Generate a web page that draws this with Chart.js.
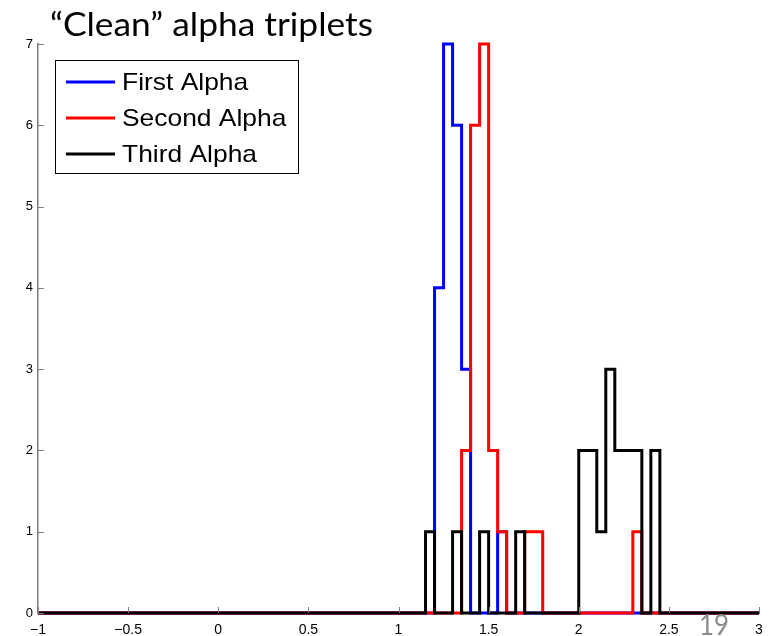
<!DOCTYPE html>
<html>
<head>
<meta charset="utf-8">
<script src="https://cdn.jsdelivr.net/npm/chart.js@4/dist/chart.umd.min.js"></script>
<style>
  body { margin: 0; background: #fff; }
  #wrap { position: relative; width: 777px; height: 636px; }
</style>
</head>
<body>
<div id="wrap"><canvas id="mycanvas" width="777" height="636"></canvas></div>
<script>
// histogram bin edges (left edge of each step) and counts
var firstX  = [-1, 1.2, 1.25, 1.3, 1.35, 1.4, 1.55, 1.6, 3];
var firstY  = [0, 4, 7, 6, 3, 0, 1, 0, 0];

var secondX = [-1, 1.35, 1.4, 1.45, 1.5, 1.55, 1.6, 1.7, 1.8, 2.3, 2.35, 3];
var secondY = [0, 2, 6, 7, 2, 1, 0, 1, 0, 1, 0, 0];

var thirdX  = [-1, 1.15, 1.2, 1.3, 1.35, 1.45, 1.5, 1.65, 1.7, 2.0, 2.1, 2.15, 2.2, 2.35, 2.4, 2.45, 3];
var thirdY  = [0, 1, 0, 1, 0, 1, 0, 1, 0, 2, 1, 3, 2, 0, 2, 0, 0];

var labels = ['First Alpha', 'Second Alpha', 'Third Alpha'];
var colors = ['#0000ff', '#ff0000', '#000000'];
var titleText = '\u201CClean\u201D alpha triplets';
var pageNumber = '19';

function pts(xs, ys) {
	var out = [];
	for (var i in xs) out.push({x: xs[i], y: ys[i]});
	return out;
}

// text squeezed/stretched to a given width (the slide was stretched sideways)
function fitText(ctx, txt, x, y, w) {
	var s = w / ctx.measureText(txt).width;
	ctx.save();
	ctx.translate(x, y);
	ctx.scale(s, 1);
	ctx.fillText(txt, 0, 0);
	ctx.restore();
}

// inward tick marks, matlab style
var innerTicks = {
	id: 'innerTicks',
	afterDraw: function(chart) {
		var ctx = chart.ctx, x = chart.scales.x, y = chart.scales.y;
		ctx.save();
		ctx.strokeStyle = '#7f7f7f';
		ctx.lineWidth = 1;
		y.ticks.forEach(function(t) {
			var py = Math.round(y.getPixelForValue(t.value)) + 0.5;
			ctx.beginPath(); ctx.moveTo(x.left, py); ctx.lineTo(x.left + 6, py); ctx.stroke();
		});
		x.ticks.forEach(function(t) {
			var px = Math.round(x.getPixelForValue(t.value)) + 0.5;
			ctx.beginPath(); ctx.moveTo(px, y.bottom); ctx.lineTo(px, y.bottom - 6); ctx.stroke();
		});
		ctx.restore();
	}
};

// boxed legend inside the plot + slide title and page number
var slideBits = {
	id: 'slideBits',
	afterDraw: function(chart) {
		var ctx = chart.ctx;
		ctx.save();
		ctx.fillStyle = '#fff';
		ctx.fillRect(56, 61, 242, 112);
		ctx.strokeStyle = '#000';
		ctx.lineWidth = 1;
		ctx.strokeRect(55.5, 60.5, 243, 113);
		chart.data.datasets.forEach(function(ds, i) {
			var ry = 82 + i * 36;
			ctx.strokeStyle = ds.borderColor;
			ctx.lineWidth = 3;
			ctx.beginPath(); ctx.moveTo(66, ry); ctx.lineTo(115, ry); ctx.stroke();
			ctx.save();
			ctx.translate(122, ry);
			ctx.scale(1.1, 1);
			ctx.fillStyle = '#000';
			ctx.font = '24px "Liberation Sans", Arial, sans-serif';
			ctx.textBaseline = 'middle';
			ctx.fillText(ds.label, 0, 1);
			ctx.restore();
		});
		ctx.fillStyle = '#000';
		ctx.font = '32px Lato, "Open Sans", sans-serif';
		ctx.textBaseline = 'alphabetic';
		fitText(ctx, titleText, 50, 36, 323);
		ctx.fillStyle = '#8c8c8c';
		ctx.font = '28px Lato, "Open Sans", sans-serif';
		fitText(ctx, pageNumber, 699, 635, 30);
		ctx.restore();
	}
};

Chart.defaults.font.family = '"Liberation Sans", Arial, sans-serif';
Chart.defaults.font.size = 13;
Chart.defaults.color = '#000';

var xs = [firstX, secondX, thirdX], ys = [firstY, secondY, thirdY];
var datasets = [];
for (var i = 0; i < 3; i++) {
	datasets.push({
		label: labels[i],
		data: pts(xs[i], ys[i]),
		borderColor: colors[i],
		borderWidth: 3,
		stepped: 'before',
		pointRadius: 0,
		fill: false,
		clip: false,
		order: 3 - i
	});
}

var ctx = document.getElementById('mycanvas');
var chart = new Chart(ctx, {
	type: 'line',
	data: { datasets: datasets },
	options: {
		responsive: false,
		animation: false,
		devicePixelRatio: 1,
		layout: { padding: { top: 44, right: 18, left: 0, bottom: 0 } },
		plugins: { legend: { display: false }, tooltip: { enabled: false } },
		scales: {
			x: {
				type: 'linear', min: -1, max: 3,
				grid: { display: false, drawTicks: false },
				border: { display: true, color: '#7f7f7f', width: 1 },
				ticks: {
					stepSize: 0.5, padding: 9, maxRotation: 0,
					font: { size: 14 },
					callback: function(v) { return v < 0 ? '\u2212' + Math.abs(v) : String(v); }
				},
				afterFit: function(s) { s.height = 23; }
			},
			y: {
				min: 0, max: 7,
				grid: { display: false, drawTicks: false },
				border: { display: true, color: '#7f7f7f', width: 1.5 },
				ticks: { stepSize: 1, padding: 5 },
				afterFit: function(s) { s.width = 38; }
			}
		}
	},
	plugins: [innerTicks, slideBits]
});
</script>
</body>
</html>
